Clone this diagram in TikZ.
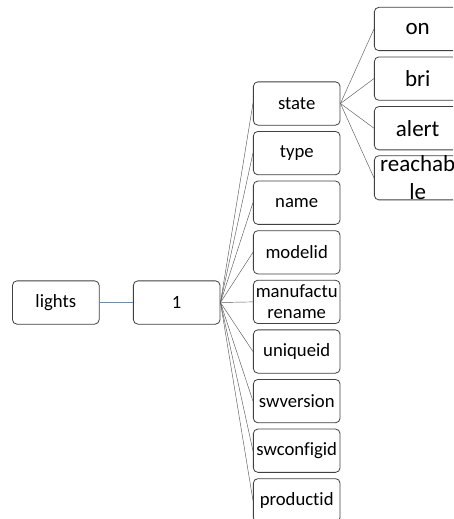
\documentclass[tikz,border=0pt]{standalone}
\usepackage{fontspec}
\setmainfont{Carlito}[Ligatures=NoCommon]
\definecolor{boxline}{RGB}{64,64,64}
\definecolor{linkblue}{RGB}{91,143,200}
\definecolor{linkgray}{RGB}{90,90,90}
\begin{document}
\begin{tikzpicture}[x=1pt,y=-1pt,
  box/.style={draw=boxline, line width=0.8pt, rounded corners=4.5pt, fill=white,
    minimum width=86.7pt, minimum height=43.3pt, inner sep=0pt, align=center,
    font=\fontsize{18.7}{21}\selectfont},
  bigbox/.style={box, font=\fontsize{23}{28}\selectfont},
  fan/.style={draw=linkgray, line width=0.45pt}]
\useasboundingbox (0,0) rectangle (453,519);
\clip (0,0) rectangle (453,519);

% root and its single child
\node[box] (lights) at (55.8,302.5) {lights};
\node[box] (one) at (176.7,302.5) {1};
\draw[linkblue, line width=1pt] (lights.east) -- (one.east -| one.west);

% attributes of light 1
\foreach \n/\t [count=\i from 0] in {state/state, type/type, name/name, modelid/modelid,
    manuf/{manufactu\\rename}, uniqueid/uniqueid, swversion/swversion,
    swconfigid/swconfigid, productid/productid} {
  \node[box] (\n) at (296.7,103.5+49.6*\i) {\t};
  \draw[fan] (one.east) -- (\n.west);
}

% members of state
\foreach \n/\t [count=\i from 0] in {on/on, bri/bri, alert/alert, reach/{reachab\\le}} {
  \node[bigbox] (\n) at (417.7,29+49.6*\i) {\t};
  \draw[fan] (state.east) -- (\n.west);
}
\end{tikzpicture}
\end{document}
